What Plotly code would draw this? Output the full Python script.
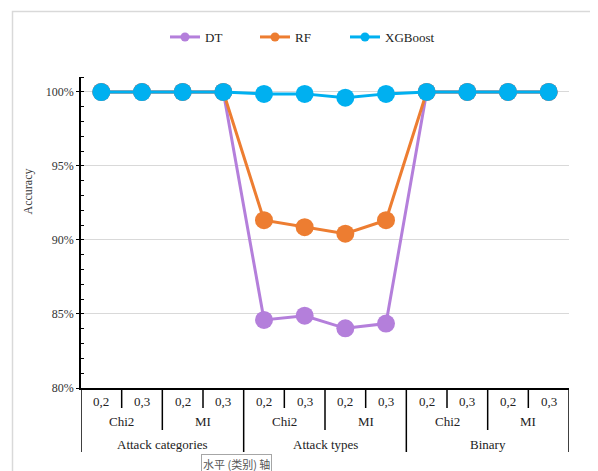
import plotly.graph_objects as go

# ---- data ----
ratio_labels = ["0,2", "0,3"] * 6
method_labels = ["Chi2", "MI"] * 3
task_labels = ["Attack categories", "Attack types", "Binary"]
series_names = ["DT", "RF", "XGBoost"]
dt_values = [99.99, 99.99, 99.99, 99.99, 84.60, 84.88, 84.03, 84.35, 99.99, 99.99, 99.99, 99.99]
rf_values = [99.99, 99.99, 99.99, 99.99, 91.33, 90.86, 90.42, 91.33, 99.99, 99.99, 99.99, 99.99]
xgb_values = [99.98, 99.98, 99.99, 99.99, 99.86, 99.86, 99.60, 99.86, 99.99, 99.99, 99.99, 99.99]
y_ticks = [80, 85, 90, 95, 100]
y_title = "Accuracy"
tooltip_text = "水平 (类别) 轴"

colors = ["#B47FDB", "#ED7D31", "#00B0F0"]
SERIF = "Liberation Serif, Times New Roman, serif"

# pixel geometry (page body has an 8px default margin)
OFF = 8
W, H = 598, 471
plot_w, plot_h = 488, 311
L = 81 - OFF
T = 77 - OFF
R = W - L - plot_w
B = H - T - plot_h


def py(p):
    """reference pixel row -> paper y"""
    return (T + plot_h - (p - OFF)) / plot_h


def px(p):
    """reference pixel column -> paper x"""
    return (p - OFF - L) / plot_w


x_idx = list(range(len(ratio_labels)))
fig = go.Figure()

for name, vals, c in zip(series_names, [dt_values, rf_values, xgb_values], colors):
    fig.add_trace(go.Scatter(
        x=x_idx, y=vals, mode="lines+markers", name=name,
        line=dict(color=c, width=3), marker=dict(color=c, size=18),
        cliponaxis=False, showlegend=False,
    ))
    fig.add_trace(go.Scatter(
        x=[None], y=[None], mode="lines+markers", name=name,
        line=dict(color=c, width=3), marker=dict(color=c, size=9),
        showlegend=True,
    ))

shapes = []
annotations = []
lab_font = dict(family=SERIF, size=13, color="#222")

for i, lab in enumerate(ratio_labels):
    annotations.append(dict(x=i, y=py(401), xref="x", yref="paper", text=lab,
                            showarrow=False, yanchor="middle", font=lab_font))
for j, lab in enumerate(method_labels):
    annotations.append(dict(x=2 * j + 0.5, y=py(421), xref="x", yref="paper", text=lab,
                            showarrow=False, yanchor="middle", font=lab_font))
for k, lab in enumerate(task_labels):
    annotations.append(dict(x=4 * k + 1.5, y=py(444), xref="x", yref="paper", text=lab,
                            showarrow=False, yanchor="middle", font=lab_font))

n = len(ratio_labels)
for b in range(n + 1):
    xb = b - 0.5
    if b % 4 == 0:
        bottom = 452
    elif b % 2 == 0:
        bottom = 430
    else:
        bottom = 408
    shapes.append(dict(type="line", xref="x", yref="paper", x0=xb, x1=xb,
                       y0=0, y1=py(bottom), line=dict(color="black", width=1.5)))

# outer chart border
shapes.append(dict(type="rect", xref="paper", yref="paper",
                   x0=px(12.5), x1=px(595), y0=py(H + 30), y1=py(11.5),
                   line=dict(color="#D9D9D9", width=1.5), layer="below"))

annotations.append(dict(x=px(27.5), y=py(192), xref="paper", yref="paper",
                        text=y_title, textangle=-90, showarrow=False,
                        xanchor="center", yanchor="middle",
                        font=dict(family=SERIF, size=12, color="#333")))

annotations.append(dict(x=px(236.5), y=py(464), xref="paper", yref="paper",
                        text=tooltip_text, showarrow=False,
                        xanchor="center", yanchor="middle",
                        bgcolor="white", bordercolor="#A6A6A6", borderwidth=1, borderpad=1,
                        font=dict(family="Noto Sans CJK SC", size=11, color="#555")))

fig.update_layout(
    width=W, height=H,
    margin=dict(l=L, r=R, t=T, b=B, pad=0),
    paper_bgcolor="white", plot_bgcolor="white",
    shapes=shapes, annotations=annotations,
    legend=dict(orientation="h", x=px(165), y=py(37), xanchor="left", yanchor="middle",
                font=dict(family=SERIF, size=13, color="#222"),
                entrywidth=45, entrywidthmode="pixels",
                bgcolor="rgba(0,0,0,0)"),
    xaxis=dict(range=[-0.5, n - 0.5], showticklabels=False, showgrid=False, zeroline=False,
               showline=True, linecolor="black", linewidth=1.5, ticks=""),
    yaxis=dict(range=[80, 101], tickvals=y_ticks, ticktext=[f"{v}%" for v in y_ticks],
               showgrid=True, gridcolor="#D9D9D9", gridwidth=1, zeroline=False,
               showline=True, linecolor="black", linewidth=1.5,
               ticks="outside", ticklen=3, tickcolor="black",
               tickfont=dict(family=SERIF, size=12, color="#333"),
               minor=dict(dtick=1, tick0=80, ticks="inside", ticklen=3, tickcolor="black", showgrid=False)),
)

fig.write_html("out.html")
